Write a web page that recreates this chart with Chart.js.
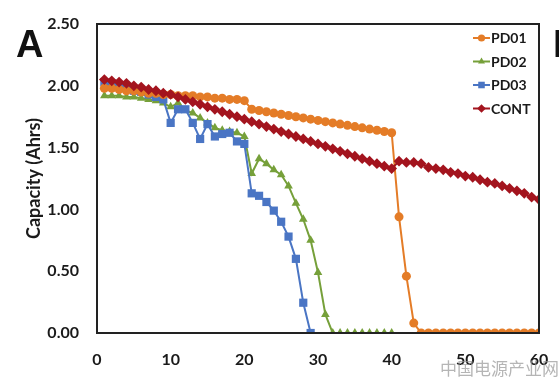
<!DOCTYPE html>
<html>
<head>
<meta charset="utf-8">
<script src="https://cdn.jsdelivr.net/npm/chart.js@4/dist/chart.umd.min.js"></script>
<style>
  html, body { margin: 0; padding: 0; background: #fff; }
  #wrap { width: 559px; height: 378px; position: relative; }
</style>
</head>
<body>
<div id="wrap"><canvas id="c" width="559" height="378"></canvas></div>
<script>
// ---- data ----
const cycles = [1,2,3,4,5,6,7,8,9,10,11,12,13,14,15,16,17,18,19,20,
  21,22,23,24,25,26,27,28,29,30,31,32,33,34,35,36,37,38,39,40,
  41,42,43,44,45,46,47,48,49,50,51,52,53,54,55,56,57,58,59,60];

const pd01 = [1.98,1.98,1.97,1.96,1.96,1.95,1.94,1.94,1.93,1.93,
  1.92,1.92,1.92,1.91,1.91,1.90,1.90,1.89,1.89,1.88,
  1.81,1.80,1.79,1.78,1.77,1.76,1.75,1.74,1.73,1.72,
  1.71,1.70,1.69,1.68,1.67,1.66,1.65,1.64,1.63,1.62,
  0.94,0.46,0.08,0,0,0,0,0,0,0,
  0,0,0,0,0,0,0,0,0,0];

const pd02 = [1.92,1.92,1.92,1.91,1.91,1.90,1.89,1.88,1.86,1.83,
  1.86,1.80,1.78,1.74,1.70,1.66,1.64,1.63,1.62,1.59,
  1.29,1.41,1.37,1.32,1.28,1.19,1.05,0.92,0.75,0.49,
  0.15,0,0,0,0,0,0,0,0,0];

const pd03 = [2.03,2.02,2.00,1.98,1.96,1.95,1.93,1.91,1.89,1.70,
  1.81,1.81,1.70,1.57,1.69,1.59,1.61,1.62,1.55,1.53,
  1.13,1.11,1.06,0.99,0.90,0.78,0.60,0.245,0];

const cont = [2.05,2.04,2.03,2.02,2.00,1.99,1.97,1.96,1.94,1.93,
  1.91,1.89,1.87,1.85,1.83,1.81,1.79,1.77,1.75,1.73,
  1.71,1.69,1.67,1.65,1.63,1.61,1.59,1.57,1.55,1.53,
  1.51,1.49,1.47,1.45,1.43,1.41,1.39,1.37,1.35,1.33,
  1.39,1.38,1.38,1.37,1.34,1.33,1.32,1.30,1.29,1.27,
  1.26,1.24,1.22,1.21,1.19,1.17,1.15,1.13,1.10,1.08];

const seriesNames = ['PD01','PD02','PD03','CONT'];
const xTicks = [0,10,20,30,40,50,60];
const yTicks = [0,0.5,1,1.5,2,2.5];
const yTitle = 'Capacity (Ahrs)';
const panelLabel = 'A';
const watermark = '中国电源产业网';

// ---- build ----
function pts(vals) { return vals.map((v, i) => ({ x: cycles[i], y: v })); }

const styles = [
  { color: '#E47C27', point: 'circle',   radius: 4.5, order: 1 },
  { color: '#76A03A', point: 'triangle', radius: 5,   order: 3 },
  { color: '#4A75C4', point: 'rect',     radius: 5.8, order: 2 },
  { color: '#A3141E', point: 'rectRot',  radius: 5.4, order: 0 }
];
const allVals = [pd01, pd02, pd03, cont];

const datasets = allVals.map((vals, i) => ({
  label: seriesNames[i],
  data: pts(vals),
  borderColor: styles[i].color,
  backgroundColor: styles[i].color,
  borderWidth: 2,
  pointStyle: styles[i].point,
  pointRadius: styles[i].radius,
  pointBorderWidth: 0,
  pointBackgroundColor: styles[i].color,
  tension: 0,
  order: styles[i].order
}));

const FONT = "Lato, 'Open Sans', sans-serif";
const TXT = '#1a1a1a';

function drawMarker(ctx, style, x, y, r) {
  ctx.beginPath();
  if (style === 'circle') {
    ctx.arc(x, y, r, 0, Math.PI * 2);
  } else if (style === 'triangle') {
    ctx.moveTo(x, y - r);
    ctx.lineTo(x + r * 0.866, y + r * 0.5);
    ctx.lineTo(x - r * 0.866, y + r * 0.5);
    ctx.closePath();
  } else if (style === 'rect') {
    const s = r * 0.707;
    ctx.rect(x - s, y - s, 2 * s, 2 * s);
  } else {
    ctx.moveTo(x, y - r); ctx.lineTo(x + r, y); ctx.lineTo(x, y + r); ctx.lineTo(x - r, y);
    ctx.closePath();
  }
  ctx.fill();
}

const extras = {
  id: 'extras',
  afterDraw(chart) {
    const ctx = chart.ctx;
    const a = chart.chartArea;
    ctx.save();
    // frame
    ctx.strokeStyle = '#222';
    ctx.lineWidth = 2;
    ctx.strokeRect(a.left, a.top, a.right - a.left, a.bottom - a.top);
    // legend
    const lx = 473, ly0 = 38, lstep = 23.5;
    ctx.font = 'bold 14px ' + FONT;
    ctx.textBaseline = 'middle';
    ctx.textAlign = 'left';
    seriesNames.forEach((name, i) => {
      const y = ly0 + i * lstep;
      const st = styles[i];
      ctx.strokeStyle = st.color;
      ctx.fillStyle = st.color;
      ctx.lineWidth = 2;
      ctx.beginPath(); ctx.moveTo(lx, y); ctx.lineTo(lx + 17, y); ctx.stroke();
      drawMarker(ctx, st.point, lx + 8.5, y, st.radius * 0.8);
      ctx.fillStyle = TXT;
      ctx.fillText(name, lx + 18, y + 0.5);
    });
    // panel labels
    ctx.fillStyle = '#111';
    ctx.font = "bold 38px 'Liberation Sans', Arial, sans-serif";
    ctx.textBaseline = 'alphabetic';
    ctx.fillText(panelLabel, 16, 57);
    ctx.fillText('B', 553, 57);
    // watermark
    ctx.font = "17px 'Noto Sans CJK SC', sans-serif";
    ctx.fillStyle = 'rgba(150,150,150,0.7)';
    ctx.fillText(watermark, 440, 375);
    ctx.restore();
  }
};

new Chart(document.getElementById('c'), {
  type: 'line',
  data: { datasets },
  options: {
    responsive: false,
    animation: false,
    devicePixelRatio: 1,
    layout: { padding: { top: 24, right: 20, left: 0, bottom: 0 } },
    plugins: { legend: { display: false }, tooltip: { enabled: false } },
    scales: {
      x: {
        type: 'linear', min: 0, max: 60,
        afterBuildTicks: s => { s.ticks = xTicks.map(v => ({ value: v })); },
        afterFit: s => { s.height = 45; s.paddingLeft = 0; s.paddingRight = 0; },
        grid: { display: false, drawTicks: false },
        border: { display: true, color: '#222', width: 2 },
        ticks: { padding: 17, color: TXT, font: { family: FONT, size: 16, weight: 'bold' }, maxRotation: 0 }
      },
      y: {
        min: 0, max: 2.5,
        afterBuildTicks: s => { s.ticks = yTicks.map(v => ({ value: v })); },
        afterFit: s => { s.width = 97; s.paddingTop = 0; s.paddingBottom = 0; },
        grid: { display: false, drawTicks: false },
        border: { display: true, color: '#222', width: 2 },
        ticks: { padding: 18, color: TXT, font: { family: FONT, size: 16, weight: 'bold' },
                 callback: v => Number(v).toFixed(2) },
        title: { display: true, text: yTitle, color: TXT,
                 font: { family: FONT, size: 18, weight: 'bold' }, padding: { top: 23, bottom: 0 } }
      }
    }
  },
  plugins: [extras]
});
</script>
</body>
</html>
